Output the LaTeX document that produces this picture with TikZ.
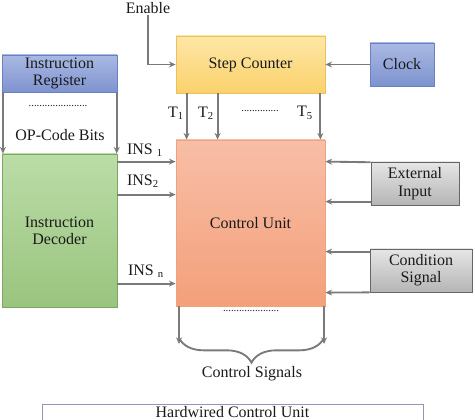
\documentclass[tikz,border=0pt]{standalone}
\usepackage{fontspec}
\setmainfont{Liberation Serif}
\usepackage{xcolor}
\usetikzlibrary{arrows.meta,decorations.pathreplacing}

\definecolor{linegray}{HTML}{7A7A7A}
\definecolor{txt}{HTML}{1A1A1A}

\tikzset{
  blockbox/.style={draw,line width=0.6pt,align=center,text=txt,
    font=\fontsize{12}{13}\selectfont,inner sep=0pt},
  bluebox/.style={blockbox,draw={rgb,255:red,107;green,128;blue,195},
    top color={rgb,255:red,170;green,185;blue,227},bottom color={rgb,255:red,126;green,147;blue,207}},
  greenbox/.style={blockbox,draw={rgb,255:red,125;green,168;blue,98},
    top color={rgb,255:red,187;green,220;blue,167},bottom color={rgb,255:red,153;green,196;blue,126}},
  yellowbox/.style={blockbox,draw={rgb,255:red,237;green,193;blue,89},
    top color={rgb,255:red,254;green,231;blue,166},bottom color={rgb,255:red,251;green,209;blue,108}},
  redbox/.style={blockbox,draw={rgb,255:red,237;green,162;blue,130},
    top color={rgb,255:red,248;green,190;blue,167},bottom color={rgb,255:red,244;green,160;blue,122}},
  graybox/.style={blockbox,draw={rgb,255:red,102;green,102;blue,102},
    top color={rgb,255:red,230;green,230;blue,230},bottom color={rgb,255:red,181;green,181;blue,181}},
  lbl/.style={text=txt,font=\fontsize{12}{13}\selectfont,inner sep=1pt},
  dots/.style={text=txt,font=\fontsize{8}{8}\selectfont,inner sep=0pt},
  arr/.style={-{Stealth[length=5pt,width=4.5pt]},line width=1.4pt,linegray}
}

\begin{document}
\begin{tikzpicture}[x=0.75pt,y=-0.75pt]
\useasboundingbox (0,0) rectangle (475,420);

\node[bluebox,minimum width=86.25pt,minimum height=27.75pt] (ir) at (59.5,73.5) {Instruction\\Register};
\node[greenbox,minimum width=86.25pt,minimum height=114.75pt] (dec) at (59.5,230.5) {Instruction\\Decoder};
\node[yellowbox,minimum width=111.75pt,minimum height=42.75pt] (sc) at (250.5,64.5) {Step Counter};
\node[bluebox,minimum width=48pt,minimum height=32.25pt] (clk) at (402,64.5) {Clock};
\node[redbox,minimum width=111.75pt,minimum height=124.5pt] (cu) at (250.5,223) {Control Unit};
\node[graybox,minimum width=66pt,minimum height=32.25pt] (ext) at (415,183.5) {External\\Input};
\node[graybox,minimum width=76.5pt,minimum height=32.25pt] (cond) at (421,270.5) {Condition\\Signal};

\node[lbl] (en) at (148,8) {Enable};
\node[dots] (irdots) at (58,106) {......................};
\node[lbl] (op) at (60,135) {OP-Code Bits};

\node[lbl] (t1) at (176,113) {T\textsubscript{1}};
\node[lbl] (t2) at (206,113) {T\textsubscript{2}};
\node[dots] (tdots) at (260,111) {..............};
\node[lbl] (t5) at (305,113) {T\textsubscript{5}};

\node[lbl] (ins1) at (145,150) {INS \textsubscript{1}};
\node[lbl] (ins2) at (143,181) {INS\textsubscript{2}};
\node[lbl] (insn) at (146,271) {INS \textsubscript{n}};

\node[dots] (cudots) at (251,311) {.....................};
\node[lbl] (cs) at (252,374) {Control Signals};

\node[draw=blue!20!gray!70,line width=0.6pt,anchor=north,minimum width=285.75pt,
  text height=9pt,text depth=20pt,inner ysep=2pt,lbl] (title) at (232.5,404) {Hardwired Control Unit};

% enable and clock
\draw[arr] (en.south) |- (sc.west);
\draw[arr] (clk.west) -- (sc.east);

% opcode bits
\draw[arr] ([xshift=1pt]ir.south west) -- ([xshift=1pt]dec.north west);
\draw[arr] ([xshift=-0.5pt]ir.south east) -- ([xshift=-0.5pt]dec.north east);

% timing signals
\draw[arr] ([xshift=8.25pt]sc.south west) -- ([xshift=8.25pt]cu.north west);
\draw[arr] ([xshift=31.5pt]sc.south west) -- ([xshift=31.5pt]cu.north west);
\draw[arr] ([xshift=-3.75pt]sc.south east) -- ([xshift=-3.75pt]cu.north east);

% decoded instructions
\draw[arr] ([yshift=-6pt]dec.north east) -- ([yshift=-16.5pt]cu.north west);
\draw[arr] ([yshift=-30.75pt]dec.north east) -- ([yshift=-41.25pt]cu.north west);
\draw[arr] ([yshift=-97.5pt]dec.north east) -- ([yshift=-108pt]cu.north west);

% external inputs
\draw[arr] ([yshift=-0.5pt]ext.north west) -- ([yshift=-16.5pt]cu.north east);
\draw[arr] ([yshift=-30pt]ext.north west) -- ([yshift=-46.5pt]cu.north east);
\draw[arr] ([yshift=-2.25pt]cond.north west) -- ([yshift=-84pt]cu.north east);
\draw[arr] (cond.south west) -- ([yshift=-114.75pt]cu.north east);

% control signals
\coordinate (cs1) at (179,344);
\coordinate (cs2) at (324,344);
\draw[arr] (cs1 |- cu.south) -- (cs1);
\draw[arr] (cs2 |- cu.south) -- (cs2);
\draw[line width=1.4pt,linegray,decorate,decoration={brace,mirror,amplitude=18.5pt}]
  ([yshift=4.5pt]cs1) -- ([yshift=4.5pt]cs2);
\end{tikzpicture}
\end{document}
